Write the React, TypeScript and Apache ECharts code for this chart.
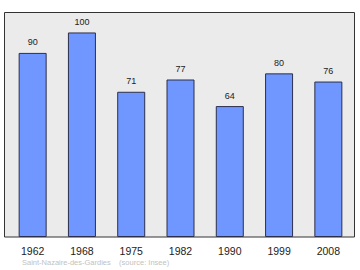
import React, { useEffect, useRef } from "react";
import * as echarts from "echarts";

const years = ["1962", "1968", "1975", "1982", "1990", "1999", "2008"];
const population = [90, 100, 71, 77, 64, 80, 76];
const sourceText = "Saint-Nazaire-des-Gardies    (source: Insee)";

const FONT = "Liberation Sans, Arial, sans-serif";

export default function App() {
  const ref = useRef<HTMLDivElement>(null);
  useEffect(() => {
    if (!ref.current) return;
    const chart = echarts.init(ref.current, undefined, { renderer: "svg" });
    chart.setOption({
      animation: false,
      grid: {
        left: 8,
        right: 7,
        top: 12,
        bottom: 33,
        show: false,
      },
      xAxis: {
        type: "category",
        data: years,
        axisLine: { show: false },
        axisTick: { show: false },
        axisLabel: { color: "#222", fontSize: 10.5, margin: 8, fontFamily: FONT },
      },
      yAxis: {
        type: "value",
        min: 0,
        max: 110,
        show: false,
        splitLine: { show: false },
      },
      series: [
        {
          type: "bar",
          data: population,
          barWidth: 28,
          itemStyle: { color: "#7097ff", borderColor: "#2b2f4a", borderWidth: 1 },
          label: {
            show: true,
            position: "top",
            distance: 6,
            color: "#222",
            fontSize: 9,
            fontFamily: FONT,
          },
          z: 3,
        },
      ],
      graphic: [
        {
          type: "rect",
          z: -1,
          silent: true,
          shape: { x: 4.5, y: 12.5, width: 350, height: 224.5 },
          style: { fill: "#ebebeb", stroke: "#333333", lineWidth: 1 },
        },
        {
          type: "text",
          left: 22,
          top: 258,
          style: { text: sourceText, fill: "#c2c2c2", fontSize: 7.5, fontFamily: FONT },
        },
      ],
    });
    return () => chart.dispose();
  }, []);
  return <div ref={ref} style={{ width: 360, height: 270, position: "absolute", left: 0, top: 0 }} />;
}
